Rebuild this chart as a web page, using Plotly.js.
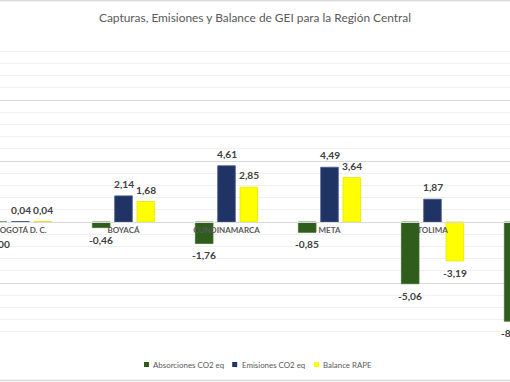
<!DOCTYPE html>
<html><head><meta charset="utf-8">
<script src="https://cdn.plot.ly/plotly-3.0.1.min.js"></script>
<style>html,body{margin:0;padding:0;background:#fff}#chart{width:510px;height:382px}</style>
</head><body><div id="chart"></div>
<script>
const categories = ["BOGOTÁ D. C.", "BOYACÁ", "CUNDINAMARCA", "META", "TOLIMA", "REGIÓN CENTRAL"];
const absorciones = [-0.003, -0.46, -1.76, -0.85, -5.06, -8.13];
const emisiones = [0.04, 2.14, 4.61, 4.49, 1.87, 13.15];
const balance = [0.04, 1.68, 2.85, 3.64, -3.19, 5.02];
const seriesNames = ["Absorciones CO2 eq", "Emisiones CO2 eq", "Balance RAPE"];
const seriesColors = ["#2e5d1c", "#1f3465", "#ffff00"];
const lineColors = ["#3f6e2c", "#4a5d8a", "#e6e600"];
const allSeries = [absorciones, emisiones, balance];

const FONT = "Lato, 'Open Sans', sans-serif";
const W = 510, H = 382, T = 39, B = 38;
const PH = H - T - B;
const n = 103;
const xr = [-20.5 / n, -20.5 / n + W / n];
const bargap = 0.35;
const slot = (1 - bargap) / 3;

const data = allSeries.map((vals, i) => ({
  type: "bar", x: categories, y: vals, name: seriesNames[i],
  marker: {color: seriesColors[i], line: {color: lineColors[i], width: 0.8}},
  hoverinfo: "none", showlegend: false
}));

function fmt(v) { return v.toFixed(2).replace(".", ","); }
const annotations = [];
allSeries.forEach((vals, i) => {
  vals.forEach((v, j) => {
    const xc = j + (i - 1) * slot;
    annotations.push({
      xref: "paper", yref: "y", x: (xc - xr[0]) / (xr[1] - xr[0]), y: v,
      text: "<b>" + fmt(v) + "</b>", showarrow: false,
      xanchor: "center", yanchor: "middle",
      yshift: v >= 0 ? 12 : (v > -0.1 ? -22 : -12),
      font: {family: FONT, size: 10.2, color: "#404040"}
    });
  });
});
// legend (custom, compact like the reference)
const legendItems = [
  {sq: 146.5, tx: 151},
  {sq: 234.7, tx: 239.5},
  {sq: 316.5, tx: 321}
];
const shapes = [
  {type: "line", xref: "paper", yref: "paper", x0: -0.01, x1: 1.01, y0: 1 + (T - 0.5) / PH, y1: 1 + (T - 0.5) / PH, line: {color: "#d9d9d9", width: 1.5}},
  {type: "line", xref: "paper", yref: "paper", x0: -0.01, x1: 1.01, y0: -(B - 1.5) / PH, y1: -(B - 1.5) / PH, line: {color: "#d9d9d9", width: 1.5}}
];
const legY = 364.5;
legendItems.forEach((it, i) => {
  shapes.push({type: "rect", xref: "paper", yref: "paper",
    x0: (it.sq - 2.5) / W, x1: (it.sq + 2.5) / W,
    y0: (H - B - (legY + 2.5)) / PH, y1: (H - B - (legY - 2.5)) / PH,
    fillcolor: seriesColors[i], line: {width: 0}});
  annotations.push({xref: "paper", yref: "paper", x: it.tx / W, y: (H - B - legY) / PH,
    xanchor: "left", yanchor: "middle", showarrow: false, text: seriesNames[i],
    font: {family: FONT, size: 7.9, color: "#595959"}});
});

const layout = {
  width: W, height: H,
  margin: {l: 0, r: 0, t: T, b: B, pad: 0},
  paper_bgcolor: "#fff", plot_bgcolor: "#fff",
  barmode: "group", bargap: bargap, bargroupgap: 0.21,
  title: {text: "Capturas, Emisiones y Balance de GEI para la Región Central",
    font: {family: FONT, size: 11.9, color: "#595959"},
    x: 0.5, xanchor: "center", y: 1 - 18 / H, yanchor: "middle", yref: "container"},
  xaxis: {range: xr, anchor: "free", position: 0.4,
    showline: true, linecolor: "#d9d9d9", linewidth: 1, ticks: "", showgrid: false,
    tickfont: {family: FONT, size: 8, color: "#595959", weight: "bold"},
    fixedrange: true},
  yaxis: {range: [-10, 15], dtick: 5, showticklabels: false, ticks: "",
    showgrid: true, gridcolor: "#d9d9d9", gridwidth: 1, zeroline: false,
    minor: {dtick: 1, showgrid: true, gridcolor: "#f0f0f0", gridwidth: 1}, fixedrange: true},
  showlegend: false,
  annotations: annotations,
  shapes: shapes
};
Plotly.newPlot("chart", data, layout, {displayModeBar: false, staticPlot: true});
</script></body></html>
